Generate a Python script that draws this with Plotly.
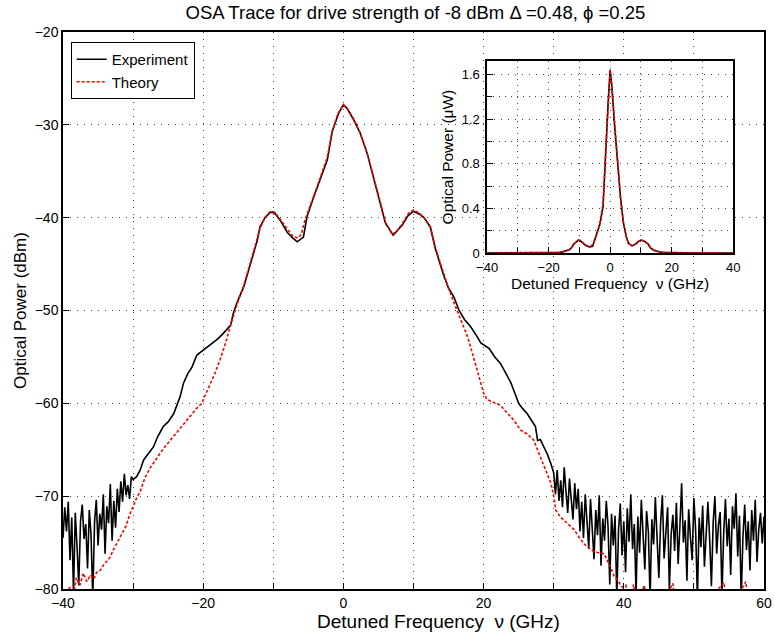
import numpy as np
import plotly.graph_objects as go

# ---------------- data ----------------
# Experiment: noisy floor on the left (-40 .. -30.25 GHz, 0.25 GHz step)
exp_left_noise = [
    -74.5, -71.2, -73.8, -70.6, -76.9, -72.3, -80.5, -71.8, -75.4, -79.6,
    -72.7, -70.9, -74.6, -73.0, -77.8, -71.5, -74.2, -81.0, -72.8, -70.4,
    -75.3, -71.9, -73.6, -69.8, -76.2, -71.1, -72.9, -68.7, -74.8, -70.5,
    -73.4, -69.2, -71.7, -68.4, -70.6, -67.6, -69.9, -68.8, -70.3, -67.9]
# Experiment: smooth central part
exp_nu = [-30.0, -29.5, -29.0, -28.5, -28.0, -27.1, -26.5, -25.7, -25.0, -24.2,
          -23.3, -22.8, -22.2, -21.6, -20.9, -20.0, -19.0, -18.0, -17.3, -16.6,
          -16.1, -15.7, -15.2, -14.2, -13.3, -12.8, -12.3, -11.9, -11.2, -10.4,
          -9.8, -9.0, -8.0, -7.2, -6.6, -5.7, -5.2, -4.2, -3.3, -2.3,
          -1.6, -0.7, 0.0, 0.5, 1.5, 2.4, 3.4, 4.3, 5.3, 6.0,
          7.1, 7.8, 8.4, 9.2, 10.0, 10.8, 11.5, 12.4, 13.1, 14.3,
          15.0, 15.8, 16.5, 17.3, 18.1, 18.9, 19.6, 20.2, 20.8, 21.6,
          22.4, 23.2, 23.9, 24.5, 25.0, 25.6, 26.2, 26.8, 27.4, 27.7,
          28.1, 28.6, 29.1, 29.6]
exp_db = [-68.2, -67.9, -67.2, -66.1, -65.6, -64.7, -63.6, -62.5, -62.0, -61.1,
          -59.3, -57.8, -56.8, -56.1, -54.8, -54.3, -53.7, -53.1, -52.6, -52.0,
          -51.6, -50.3, -49.2, -47.4, -45.2, -43.8, -42.5, -41.0, -40.0, -39.4,
          -39.5, -40.3, -41.6, -42.2, -42.6, -42.1, -39.9, -37.7, -35.8, -33.8,
          -30.7, -28.8, -27.85, -28.2, -29.5, -30.9, -33.1, -35.6, -38.5, -40.6,
          -41.9, -41.3, -40.8, -39.8, -39.3, -39.6, -40.0, -41.0, -43.3, -46.2,
          -47.6, -48.6, -50.0, -51.0, -51.7, -52.6, -53.5, -53.8, -54.1, -55.0,
          -55.7, -56.8, -57.8, -59.0, -60.0, -60.6, -61.1, -61.8, -62.5, -64.0,
          -63.9, -64.7, -65.5, -66.5]
# Experiment: noisy floor on the right (30 .. 60 GHz, 0.25 GHz step)
exp_right_noise = [
    -67.5, -69.8, -67.2, -70.5, -68.3, -71.2, -66.9, -69.5, -71.8, -68.1,
    -70.9, -72.5, -68.6,
    -71.4, -69.2, -73.8, -70.6, -74.5, -69.8, -72.9, -75.6, -70.3, -73.1,
    -76.8, -71.5, -74.2, -69.9, -77.5, -72.4,
    -74.8, -70.5, -73.2, -79.5, -71.9, -75.3, -72.1, -81.0, -73.6, -70.8,
    -76.4, -72.7, -78.2, -71.3, -74.9, -69.8, -75.7, -73.0, -80.5, -72.2,
    -76.1, -70.4, -74.3, -77.9, -71.6, -73.8, -81.0, -72.5, -75.2, -70.1,
    -74.6, -78.8, -72.9, -69.9, -76.7, -73.4, -71.2, -80.2, -74.1, -72.0,
    -75.9, -70.7, -77.3, -73.3, -68.6, -75.0, -72.6, -79.1, -71.4, -74.4,
    -76.9, -70.2, -73.7, -81.0, -72.3, -75.5, -71.0, -77.6, -73.9, -70.6,
    -74.7, -79.7, -72.8, -70.0, -76.2, -73.1, -71.7, -80.8, -74.0, -70.3,
    -75.4, -72.4, -78.5, -71.1, -73.5, -69.7, -76.5, -72.1, -81.0, -74.3,
    -70.9, -75.8, -72.7, -78.0, -71.5, -74.8, -70.4, -77.1, -73.6, -71.8,
    -75.1, -72.2]

# Theory
th_nu = [-40.0, -39.5, -39.0, -38.5, -38.1, -37.6, -37.1, -36.6, -36.1, -35.6,
         -35.2, -34.7, -34.2, -33.8, -33.3, -32.9, -32.4, -31.9, -31.5, -31.0,
         -30.5, -30.0, -29.5, -29.0, -28.3, -27.6, -26.7, -25.7, -24.6, -23.5,
         -22.8, -21.9, -21.0, -20.2, -19.6, -19.0, -18.3, -17.6, -16.8, -16.1,
         -15.5, -15.0, -14.2, -13.3, -12.5, -11.9, -11.2, -10.4, -9.8, -9.0,
         -8.0, -7.2, -6.5, -6.0, -5.5, -5.0, -4.2, -3.3, -2.3, -1.6,
         -0.8, 0.0, 0.6, 1.5, 2.4, 3.4, 4.3, 5.3, 6.0, 7.0,
         7.8, 8.6, 9.3, 10.0, 10.8, 11.5, 12.4, 13.1, 14.1, 15.0,
         16.0, 16.8, 17.7, 18.4, 19.1, 19.6, 20.0, 20.5, 21.2, 22.0,
         22.4, 23.3, 24.3, 25.3, 26.2, 27.1, 27.8, 28.6, 29.2, 29.6,
         30.0, 30.3, 30.9, 31.5, 32.2, 32.9, 33.6, 34.3, 35.0, 35.8,
         36.5, 37.2, 37.7, 38.1, 38.6, 39.1, 39.5, 39.8, 40.3, 40.8,
         41.4, 42.0, 42.9, 43.5, 45.0, 47.0, 47.5, 50.0, 54.3, 54.8,
         57.4, 58.0, 60.0]
th_db = [-81.5, -80.4, -79.8, -80.6, -78.8, -79.6, -78.3, -79.2, -78.5, -78.9,
         -78.2, -78.0, -77.4, -77.0, -76.6, -75.9, -75.2, -74.5, -74.0, -73.2,
         -72.0, -71.0, -70.2, -69.5, -68.0, -67.0, -66.0, -64.9, -63.9, -62.9,
         -62.2, -61.4, -60.6, -60.0, -59.0, -58.0, -56.7, -55.3, -53.5, -51.6,
         -50.0, -48.9, -47.3, -45.0, -43.0, -41.2, -40.0, -39.3, -39.4, -40.2,
         -41.3, -42.0, -42.2, -41.8, -40.3, -39.3, -37.5, -35.7, -33.5, -30.8,
         -28.8, -27.85, -28.3, -29.4, -30.9, -33.1, -35.6, -38.6, -40.5, -41.8,
         -41.3, -40.4, -39.5, -39.2, -39.5, -40.0, -41.0, -43.2, -45.6, -47.6,
         -49.6, -51.2, -52.8, -54.6, -56.4, -57.8, -58.9, -59.6, -59.8, -60.0,
         -60.2, -61.0, -61.8, -62.9, -63.3, -63.9, -65.2, -66.8, -67.8, -68.6,
         -70.0, -71.5, -72.2, -72.6, -73.1, -73.6, -74.4, -75.1, -75.6, -76.0,
         -76.1, -76.2, -77.0, -77.6, -78.6, -79.0, -79.5, -79.8, -79.6, -81.5,
         -79.5, -82.0, -79.6, -82.0, -82.5, -79.4, -82.5, -83.0, -79.3, -83.0,
         -79.2, -83.0, -83.0]

title_text = "OSA Trace for drive strength of -8 dBm \u0394 =0.48, \u03d5 =0.25"
xlabel_text = "Detuned Frequency  \u03bd (GHz)"

# ---------------- assemble ----------------
nu_left = np.arange(-40.0, -30.0 + 1e-9, 0.25)[:len(exp_left_noise)]
nu_right = np.arange(30.0, 60.0 + 1e-9, 0.25)[:len(exp_right_noise)]
e_nu = np.concatenate([nu_left, exp_nu, nu_right])
e_db = np.concatenate([exp_left_noise, exp_db, exp_right_noise])
t_nu = np.array(th_nu)
t_db = np.array(th_db)

# inset: same traces on linear scale (dBm -> microwatt)
e_uw = 1000.0 * 10 ** (e_db / 10.0)
t_uw = 1000.0 * 10 ** (t_db / 10.0)

FONT = "Liberation Sans, Arial, Helvetica, sans-serif"
RED_DASH = "3px,2px"

fig = go.Figure()
fig.add_trace(go.Scatter(x=e_nu, y=e_db, mode="lines", name="Experiment",
                         line=dict(color="black", width=1.6)))
fig.add_trace(go.Scatter(x=t_nu, y=t_db, mode="lines", name="Theory",
                         line=dict(color="#ff0000", width=1.6, dash=RED_DASH)))
fig.add_trace(go.Scatter(x=e_nu, y=e_uw, mode="lines", showlegend=False,
                         xaxis="x2", yaxis="y2",
                         line=dict(color="black", width=1.6)))
fig.add_trace(go.Scatter(x=t_nu, y=t_uw, mode="lines", showlegend=False,
                         xaxis="x2", yaxis="y2",
                         line=dict(color="#ff0000", width=1.6, dash=RED_DASH)))

grid = dict(showgrid=True, gridcolor="#444", gridwidth=1, griddash="1px,6px")
axline = dict(showline=True, linecolor="black", linewidth=1.5, mirror=True,
              ticks="inside", ticklen=6, tickcolor="black", tickwidth=1,
              zeroline=False, automargin=False)

fig.update_layout(
    width=775, height=637,
    margin=dict(l=63, r=11, t=32, b=48),
    paper_bgcolor="white", plot_bgcolor="white",
    font=dict(family=FONT, size=13, color="black"),
    title=dict(text=title_text, x=0.536, xanchor="center", y=0.981,
               yanchor="middle", font=dict(size=18.5, family=FONT)),
    showlegend=True,
    legend=dict(x=0.011, y=0.982, xanchor="left", yanchor="top",
                bgcolor="white", bordercolor="black", borderwidth=1,
                font=dict(size=15), tracegroupgap=0, itemwidth=30),
    xaxis=dict(domain=[0, 1], range=[-40, 60], dtick=20, tick0=-40,
               minor=dict(dtick=10, tick0=-40, ticks="inside", ticklen=6,
                          tickcolor="black", showgrid=True, gridcolor="#444",
                          griddash="1px,6px"),
               tickfont=dict(size=14),
               **grid, **axline),
    yaxis=dict(domain=[0, 1], range=[-80, -20], dtick=10,
               title=dict(text="Optical Power (dBm)", font=dict(size=17),
                          standoff=4),
               tickfont=dict(size=14),
               **grid, **axline),
    xaxis2=dict(domain=[0.605, 0.956], anchor="y2", range=[-40, 40], dtick=20,
                tick0=-40, ticklabelstandoff=2,
                minor=dict(dtick=10, tick0=-40, ticks="inside", ticklen=5,
                           tickcolor="black", showgrid=True, gridcolor="#444",
                           griddash="1px,5px"),
                title=dict(text=xlabel_text, font=dict(size=15.5), standoff=2),
                tickfont=dict(size=13),
                **grid, **axline),
    yaxis2=dict(domain=[0.603, 0.948], anchor="x2", range=[0, 1.72],
                dtick=0.4, tick0=0, ticklabelstandoff=3,
                minor=dict(dtick=0.2, tick0=0, ticks="inside", ticklen=5,
                           tickcolor="black", showgrid=True, gridcolor="#444",
                           griddash="1px,5px"),
                title=dict(text="Optical Power (\u03bcW)", font=dict(size=15.5),
                           standoff=4),
                tickfont=dict(size=13),
                **grid, **axline),
    annotations=[dict(text=xlabel_text, xref="paper", yref="paper",
                      x=0.536, y=-0.058, xanchor="center", yanchor="middle",
                      showarrow=False, font=dict(size=19, family=FONT))],
)

fig.write_html("out.html")
